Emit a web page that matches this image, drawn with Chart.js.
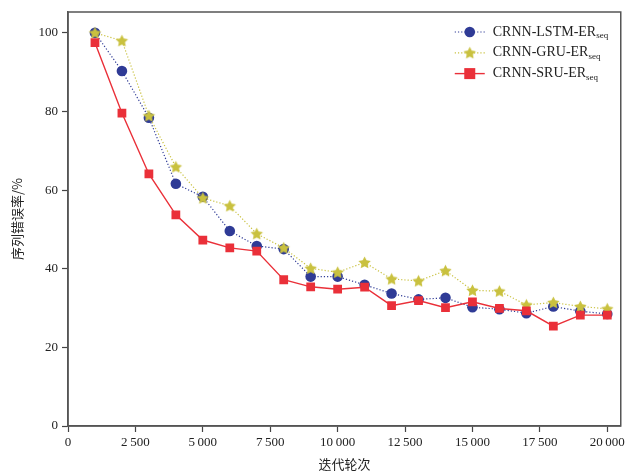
<!DOCTYPE html>
<html><head><meta charset="utf-8">
<script src="https://cdn.jsdelivr.net/npm/chart.js@4/dist/chart.umd.min.js"></script>
<style>html,body{margin:0;padding:0;background:#fff}#wrap{width:628px;height:472px}</style>
</head><body><div id="wrap"><canvas id="c" width="628" height="472"></canvas></div>
<script>
const iterations = [1000,2000,3000,4000,5000,6000,7000,8000,9000,10000,11000,12000,13000,14000,15000,16000,17000,18000,19000,20000];
const lstm = [100,90.3,78.4,61.6,58.3,49.6,45.8,45.0,38.0,38.0,35.9,33.7,32.2,32.6,30.2,29.7,28.7,30.4,29.2,28.5];
const gru  = [100,98.0,78.9,65.9,58.0,56.0,48.9,45.3,40.1,39.1,41.6,37.4,36.9,39.5,34.5,34.3,30.8,31.4,30.4,29.8];
const sru  = [97.5,79.6,64.1,53.7,47.3,45.3,44.5,37.2,35.4,34.8,35.3,30.6,31.9,30.1,31.6,29.9,29.3,25.4,28.2,28.2];
const seriesNames = ['CRNN-LSTM-ER','CRNN-GRU-ER','CRNN-SRU-ER'];
const xTicks = [0,2500,5000,7500,10000,12500,15000,17500,20000];
const yTicks = [0,20,40,60,80,100];

const BLUE='#2f3b96', YEL='#c9c13f', RED='#ea3039';
function starImg(r, color){
  const c=document.createElement('canvas'); const s=Math.ceil(r*2+2); c.width=s;c.height=s;
  const g=c.getContext('2d'); g.fillStyle=color; g.beginPath();
  for(let i=0;i<10;i++){const rr=i%2?r*0.5:r; const a=-Math.PI/2+i*Math.PI/5;
    const x=s/2+rr*Math.cos(a), y=s/2+rr*Math.sin(a)+0.5; i?g.lineTo(x,y):g.moveTo(x,y);}
  g.closePath(); g.fill(); return c;
}
const star = starImg(6.5, YEL);
const fmt = v => { const s=String(v); return s.length>3 ? s.slice(0,-3)+'\u2009'+s.slice(-3) : s; };
const serif = "'Liberation Serif','DejaVu Serif',serif";

const framePlugin = {id:'frame', afterDatasetsDraw(chart){
  const {ctx, chartArea:a} = chart; ctx.save(); ctx.strokeStyle='#555'; ctx.lineWidth=1.5;
  ctx.strokeRect(a.left, a.top, a.right-a.left, a.bottom-a.top); ctx.restore();
  // legend
  const items=[{c:BLUE,dash:[1.2,2],m:'circle'},{c:YEL,dash:[1.2,2],m:'star'},{c:RED,dash:[],m:'rect'}];
  const x0=a.right-166, y0=a.top+20, dy=20.8;
  items.forEach((it,i)=>{
    const y=y0+i*dy; ctx.save(); ctx.strokeStyle=it.c; ctx.lineWidth=i==2?1.4:1.2; ctx.setLineDash(it.dash);
    ctx.beginPath(); ctx.moveTo(x0,y); ctx.lineTo(x0+30,y); ctx.stroke(); ctx.setLineDash([]);
    ctx.fillStyle=it.c;
    if(it.m=='circle'){ctx.beginPath();ctx.arc(x0+15,y,5.3,0,Math.PI*2);ctx.fill();}
    else if(it.m=='star'){ctx.drawImage(star,x0+15-star.width/2,y-star.height/2);}
    else {ctx.fillRect(x0+15-5.5,y-5.5,11,11);}
    ctx.fillStyle='#222'; ctx.font="14px "+serif; ctx.textBaseline='middle'; ctx.textAlign='left';
    ctx.fillText(seriesNames[i], x0+38, y); const w=ctx.measureText(seriesNames[i]).width;
    ctx.font="9px "+serif; ctx.fillText('seq', x0+38+w, y+4);
    ctx.restore();
  });
}};

new Chart(document.getElementById('c'), {
  type:'line',
  data:{datasets:[
    {label:seriesNames[0], data:iterations.map((x,i)=>({x,y:lstm[i]})), borderColor:BLUE, backgroundColor:BLUE, borderWidth:1.2, borderDash:[1.2,2], pointStyle:'circle', pointRadius:5.3, pointBorderWidth:0, order:3},
    {label:seriesNames[1], data:iterations.map((x,i)=>({x,y:gru[i]})), borderColor:YEL, backgroundColor:YEL, borderWidth:1.2, borderDash:[1.2,2], pointStyle:star, order:2},
    {label:seriesNames[2], data:iterations.map((x,i)=>({x,y:sru[i]})), borderColor:RED, backgroundColor:RED, borderWidth:1.4, pointStyle:'rect', pointRadius:6.2, pointBorderWidth:0, order:1}
  ]},
  options:{
    responsive:false, animation:false, devicePixelRatio:1,
    layout:{padding:{top:12,right:7,left:0,bottom:0}},
    plugins:{legend:{display:false}, tooltip:{enabled:false}},
    elements:{line:{tension:0}},
    scales:{
      x:{type:'linear', min:0, max:20500,
        afterBuildTicks:s=>{s.ticks=xTicks.map(v=>({value:v}));},
        afterFit:s=>{s.height=46;},
        ticks:{callback:v=>fmt(v), color:'#222', font:{family:serif,size:13}, padding:3, maxRotation:0, autoSkip:false},
        grid:{drawOnChartArea:false, tickLength:6, color:'#444', tickWidth:1.2},
        border:{color:'#555', width:1.5},
        title:{display:true, text:'迭代轮次', color:'#222', font:{family:"'Noto Sans CJK SC'",size:13}, padding:{top:0,bottom:0}}
      },
      y:{min:0, max:105.3,
        afterBuildTicks:s=>{s.ticks=yTicks.map(v=>({value:v}));},
        afterFit:s=>{s.width=68;},
        ticks:{color:'#222', font:{family:serif,size:13}, padding:4, autoSkip:false},
        grid:{drawOnChartArea:false, tickLength:6, color:'#444', tickWidth:1.2},
        border:{color:'#555', width:1.5},
        title:{display:true, text:'序列错误率/%', color:'#222', font:{family:"'Noto Sans CJK SC'",size:13}, padding:{top:9,bottom:0}}
      }
    }
  },
  plugins:[framePlugin]
});
</script></body></html>
